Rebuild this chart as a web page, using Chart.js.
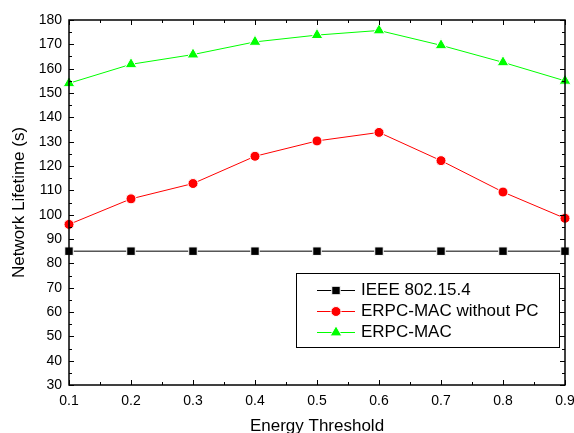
<!DOCTYPE html>
<html><head><meta charset="utf-8">
<script src="https://cdn.jsdelivr.net/npm/chart.js@4"></script>
<style>html,body{margin:0;padding:0;background:#fff}#wrap{width:574px;height:433px;position:relative}</style>
</head><body><div id="wrap"><canvas id="c"></canvas></div>
<script>
const thresholds = [0.1, 0.2, 0.3, 0.4, 0.5, 0.6, 0.7, 0.8, 0.9];
const ieee = [85, 85, 85, 85, 85, 85, 85, 85, 85];
const erpcNoPC = [96, 106.5, 112.8, 124, 130.3, 133.8, 122.2, 109.3, 98.5];
const erpc = [154, 161.8, 165.8, 171, 173.8, 175.7, 169.6, 162.6, 155];
const seriesLabels = ['IEEE 802.15.4', 'ERPC-MAC without PC', 'ERPC-MAC'];
const xTitle = 'Energy Threshold';
const yTitle = 'Network Lifetime (s)';

const FONT = 'Liberation Sans, Arial, sans-serif';
const toPts = arr => arr.map((v, i) => ({x: thresholds[i], y: v}));

const framePlugin = {
  id: 'frame',
  afterDraw(chart) {
    const {ctx, chartArea: a, scales: {x, y}} = chart;
    ctx.save();
    ctx.strokeStyle = '#000';
    ctx.lineWidth = 1;
    ctx.beginPath();
    for (let v = 0.1; v <= 0.9001; v += 0.05) {
      const px = Math.round(x.getPixelForValue(v)) + 0.5;
      const major = Math.abs(Math.round(v * 10) - v * 10) < 1e-6;
      const len = major ? 5 : 3;
      ctx.moveTo(px, a.bottom); ctx.lineTo(px, a.bottom - len);
      ctx.moveTo(px, a.top); ctx.lineTo(px, a.top + len);
    }
    for (let v = 30; v <= 180; v += 5) {
      const py = Math.round(y.getPixelForValue(v)) + 0.5;
      const len = v % 10 === 0 ? 5 : 3;
      ctx.moveTo(a.left, py); ctx.lineTo(a.left + len, py);
      ctx.moveTo(a.right, py); ctx.lineTo(a.right - len, py);
    }
    ctx.stroke();
    ctx.lineWidth = 1.5;
    ctx.strokeRect(a.left, a.top, a.right - a.left, a.bottom - a.top);

    // legend box
    const bx = 296, by = 273, bw = 263, bh = 74;
    ctx.fillStyle = '#fff';
    ctx.fillRect(bx, by, bw, bh);
    ctx.lineWidth = 1;
    ctx.strokeStyle = '#000';
    ctx.strokeRect(bx + 0.5, by + 0.5, bw, bh);
    const rows = [290, 311, 332];
    chart.data.datasets.forEach((ds, i) => {
      const ry = rows[i] + 0.5;
      ctx.strokeStyle = ds.borderColor;
      ctx.lineWidth = 1;
      ctx.beginPath(); ctx.moveTo(317, ry); ctx.lineTo(355, ry); ctx.stroke();
      ctx.save();
      ctx.fillStyle = ds.pointBackgroundColor; ctx.strokeStyle = '#fff'; ctx.lineWidth = 1;
      Chart.helpers.drawPoint(ctx, {pointStyle: ds.pointStyle, radius: ds.pointRadius, borderWidth: 1, rotation: 0}, 336, ry);
      ctx.restore();
      ctx.fillStyle = '#000';
      ctx.font = '17px ' + FONT;
      ctx.textBaseline = 'middle';
      ctx.textAlign = 'left';
      ctx.fillText(ds.label, 361, ry);
    });
    ctx.restore();
  }
};

const mk = (label, data, color, style, r) => ({
  label, data: toPts(data), borderColor: color, backgroundColor: color,
  pointBackgroundColor: color, pointBorderColor: '#fff', pointBorderWidth: 1,
  pointStyle: style, pointRadius: r, pointHoverRadius: r, borderWidth: 1,
  tension: 0, clip: false
});

new Chart(document.getElementById('c'), {
  type: 'line',
  data: {
    datasets: [
      mk(seriesLabels[0], ieee, '#000000', 'rect', 6),
      mk(seriesLabels[1], erpcNoPC, '#ff0000', 'circle', 5),
      mk(seriesLabels[2], erpc, '#00ff00', 'triangle', 6.8)
    ]
  },
  options: {
    responsive: true, maintainAspectRatio: false, animation: false,
    layout: {padding: {top: 20, right: 9, left: 0, bottom: 0}},
    plugins: {legend: {display: false}, tooltip: {enabled: false}},
    scales: {
      x: {
        type: 'linear', min: 0.1, max: 0.9,
        grid: {display: false, drawTicks: false},
        border: {display: false},
        ticks: {stepSize: 0.1, padding: 8, color: '#000', font: {family: FONT, size: 14},
          callback: v => Number(v).toFixed(1), maxRotation: 0, autoSkip: false},
        title: {display: true, text: xTitle, color: '#000', font: {family: FONT, size: 17}, padding: {top: 0, bottom: -4}},
        afterFit: s => { s.height = 48; s.paddingLeft = 0; s.paddingRight = 0; }
      },
      y: {
        min: 30, max: 180,
        grid: {display: false, drawTicks: false},
        border: {display: false},
        ticks: {stepSize: 10, padding: 7, color: '#000', font: {family: FONT, size: 14}},
        title: {display: true, text: yTitle, color: '#000', font: {family: FONT, size: 17}, padding: {top: 9, bottom: 0}},
        afterFit: s => { s.width = 69; s.paddingTop = 0; s.paddingBottom = 0; }
      }
    }
  },
  plugins: [framePlugin]
});
</script></body></html>
